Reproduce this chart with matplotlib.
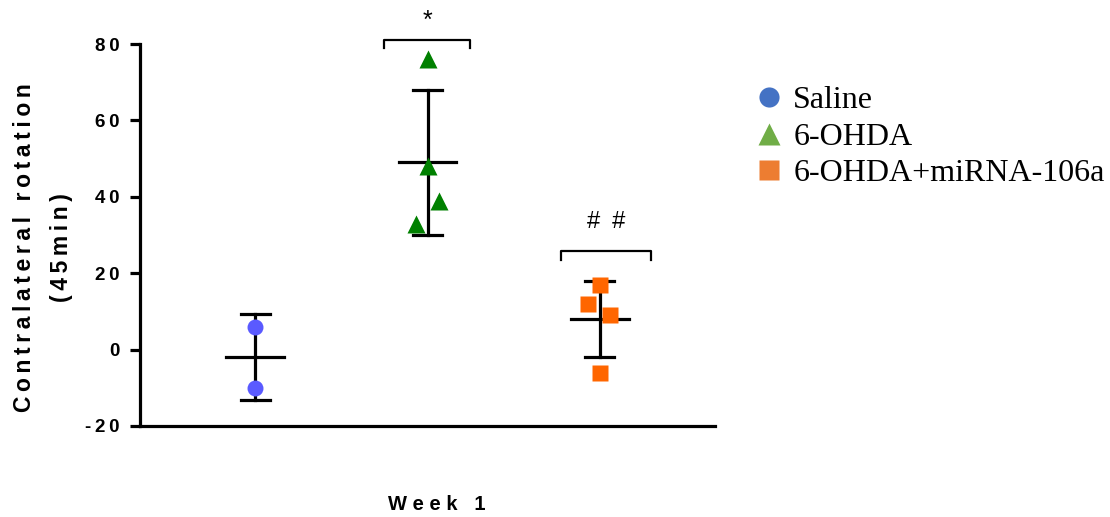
import matplotlib
matplotlib.use('Agg')
import matplotlib.pyplot as plt
from matplotlib.lines import Line2D
import numpy as np

# values (week 1)
groups = ['Saline', '6-OHDA', '6-OHDA+miRNA-106a']
saline = [6, -10]
ohda = [76, 48, 39, 33]
mirna = [17, 12, 9, -6]
saline_dx = [0.0, 0.0]
ohda_dx = [0.0, 0.0, 0.064, -0.064]
mirna_dx = [0.0, -0.07, 0.058, 0.0]
yticks = [-20, 0, 20, 40, 60, 80]

point_colors = ['#5a5aff', '#008000', '#ff6600']
legend_colors = ['#4472c4', '#70ad47', '#ed7d31']
markers = ['o', '^', 's']
sizes = [11.5, 12.5, 11.5]

SANS = ['Liberation Sans', 'DejaVu Sans']
SERIF = ['Liberation Serif', 'DejaVu Serif']


def spaced(s, sep='\u2009'):
    return sep.join(s)


fig = plt.figure(figsize=(11.1, 5.17), dpi=100)
ax = fig.add_axes([140 / 1110, 91 / 517, 575 / 1110, 382 / 517])

data = [saline, ohda, mirna]
offsets = [saline_dx, ohda_dx, mirna_dx]
for i, (vals, dx) in enumerate(zip(data, offsets)):
    x = i + 1
    m = np.mean(vals)
    sd = np.std(vals, ddof=1)
    ax.plot([x, x], [m - sd, m + sd], color='black', lw=2.3, zorder=2)
    ax.plot([x - 0.167, x + 0.167], [m, m], color='black', lw=2.3, zorder=2)
    for y in (m - sd, m + sd):
        ax.plot([x - 0.084, x + 0.084], [y, y], color='black', lw=2.3, zorder=2)
    ax.plot(x + np.array(dx), vals, linestyle='none', marker=markers[i],
            ms=sizes[i], color=point_colors[i], mec='none', zorder=3, clip_on=False)

# significance brackets
def bracket(x0, x1, y, h, label, ty, fs):
    ax.plot([x0, x0, x1, x1], [y - h, y, y, y - h], color='black', lw=1.6,
            clip_on=False, zorder=2)
    ax.text((x0 + x1) / 2, ty, label, ha='center', va='center', fontsize=fs,
            family=SANS)

bracket(1.75, 2.245, 81.0, 2.0, '*', 86.0, 18)
bracket(2.774, 3.296, 25.8, 2.4, '#\u2002#', 33.5, 17)

ax.set_xlim(1 - 0.667, 3 + 0.667)
ax.set_ylim(-20, 80)
ax.set_yticks(yticks)
ax.set_yticklabels([spaced(str(t)) for t in yticks], fontsize=13.5,
                   fontweight='bold', family=SANS)
ax.set_xticks([])
for side in ('top', 'right'):
    ax.spines[side].set_visible(False)
for side in ('left', 'bottom'):
    ax.spines[side].set_linewidth(2.3)
ax.tick_params(axis='y', length=7, width=2.3, pad=8)

fig.text(43 / 1110, 1 - 248 / 517,
         spaced('Contralateral rotation') + '\n' + spaced('(45min)'),
         rotation=90, ha='center', va='center', multialignment='center',
         fontsize=16.5, fontweight='bold', family=SANS, linespacing=1.75)
fig.text(437 / 1110, 1 - 505 / 517, spaced('Week 1', ' '),
         ha='center', va='center', fontsize=14.5, fontweight='bold', family=SANS)

handles = [Line2D([], [], linestyle='none', marker=markers[i], ms=sizes[i] + 3,
                  color=legend_colors[i], mec='none') for i in range(3)]
leg = fig.legend(handles, groups, loc='upper left',
                 bbox_to_anchor=(739 / 1110, 1 - 70 / 517), frameon=False,
                 prop={'family': SERIF, 'size': 23}, handlelength=0.9,
                 handletextpad=0.3, labelspacing=0.22, borderpad=0)

fig.savefig('out.png', dpi=100)
